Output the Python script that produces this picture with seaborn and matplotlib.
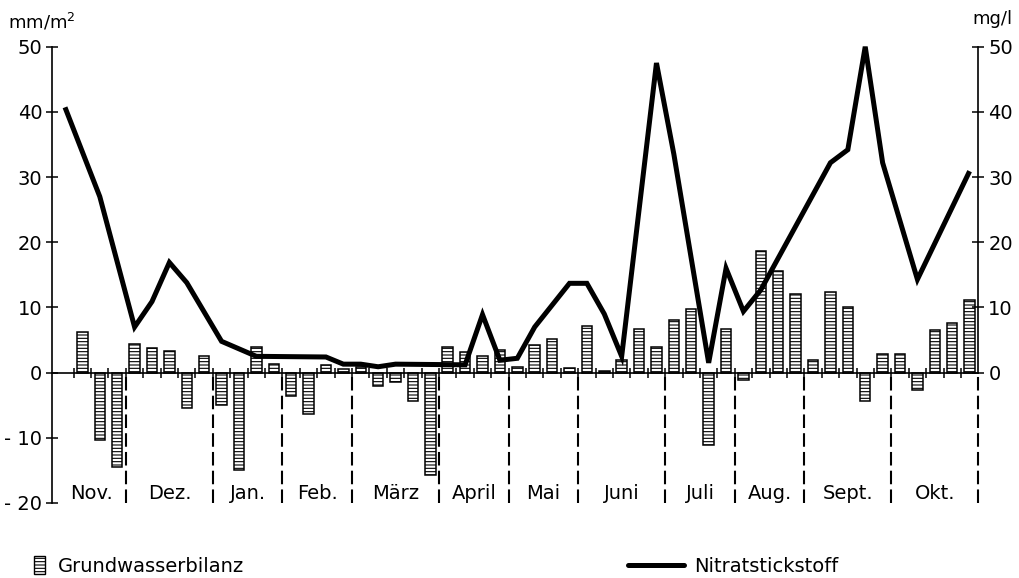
import numpy as np
import pandas as pd
import matplotlib
matplotlib.use("Agg")
import matplotlib.pyplot as plt
import seaborn as sns
from matplotlib.patches import Patch
from matplotlib.lines import Line2D

# Hydrological year, one bar per week
months = ["Nov.", "Dez.", "Jan.", "Feb.", "März", "April", "Mai", "Juni",
          "Juli", "Aug.", "Sept.", "Okt."]
weeks_per_month = [4, 5, 4, 4, 5, 4, 4, 5, 4, 4, 5, 5]

# Weekly groundwater balance in mm/m² (first week without value)
balance = [np.nan, 6.2, -10.4, -14.5,          # Nov
           4.4, 3.8, 3.3, -5.4, 2.5,           # Dez
           -5.0, -15.0, 3.9, 1.4,              # Jan
           -3.6, -6.4, 1.2, 0.6,               # Feb
           0.8, -2.0, -1.5, -4.4, -15.7,       # März
           4.0, 3.1, 2.6, 3.5,                 # April
           0.9, 4.3, 5.1, 0.7,                 # Mai
           7.2, 0.2, 2.0, 6.7, 3.9,            # Juni
           8.1, 9.7, -11.1, 6.7,               # Juli
           -1.1, 18.7, 15.6, 12.1,             # Aug
           2.0, 12.4, 10.0, -4.3, 2.9,         # Sept
           2.8, -2.7, 6.6, 7.6, 11.2]          # Okt

# Nitrate nitrogen in mg/l, sampled at these weeks
nitrate_week = [0, 2, 4, 5, 6, 7, 9, 11, 15, 16, 17, 18, 19, 23, 24, 25, 26,
                27, 29, 30, 31, 32, 34, 35, 37, 38, 39, 40, 44, 45, 46, 47,
                49, 52]
nitrate = [40.7, 27.0, 7.0, 10.9, 16.9, 13.8, 4.8, 2.5, 2.4, 1.3, 1.3, 0.9,
           1.3, 1.2, 8.9, 1.9, 2.2, 7.0, 13.7, 13.7, 9.0, 2.5, 47.5, 33.5,
           1.5, 16.0, 9.4, 12.7, 32.2, 34.2, 50.0, 32.2, 14.3, 30.9]

left_ticks = [50, 40, 30, 20, 10, 0, -10, -20]
left_labels = ["50", "40", "30", "20", "10", "0", "- 10", "- 20"]
right_ticks = [0, 10, 20, 30, 40, 50]

sns.set_theme(style="white")
plt.rcParams["font.family"] = ["DejaVu Sans"]
plt.rcParams["hatch.linewidth"] = 0.8
plt.rcParams["hatch.color"] = "black"
for key in ["text.color", "axes.labelcolor", "xtick.color", "ytick.color"]:
    plt.rcParams[key] = "black"

FS = 14
n_weeks = len(balance)
df = pd.DataFrame({"week": np.arange(n_weeks), "balance": balance})

fig = plt.figure(figsize=(10.19, 5.78), dpi=100)
ax = fig.add_axes([52.3 / 1019, 1 - 503 / 578, 926 / 1019, 456.3 / 578])

sns.barplot(data=df.dropna(), x="week", y="balance", native_scale=True,
            width=0.6, color="white", saturation=1, edgecolor="black",
            linewidth=1.1, errorbar=None, ax=ax, zorder=2)
for p in ax.patches:
    p.set_hatch("-----")

sns.lineplot(x=nitrate_week, y=nitrate, ax=ax, color="black", linewidth=3.6,
             zorder=4, clip_on=False, solid_joinstyle="miter",
             solid_capstyle="butt")

ax.set_xlim(-0.73, n_weeks - 0.5)
ax.set_ylim(-20, 50)
ax.set_xlabel("")
ax.set_ylabel("")

# zero line as x axis with week ticks
for s in ["top", "right"]:
    ax.spines[s].set_visible(False)
ax.spines["bottom"].set_position(("data", 0))
ax.spines["bottom"].set_linewidth(1.2)
ax.spines["bottom"].set_color("black")
ax.spines["left"].set_linewidth(1.2)
ax.spines["left"].set_color("black")
ax.set_xticks(np.arange(1, n_weeks) - 0.5)
ax.set_xticklabels([])
ax.tick_params(axis="x", direction="inout", length=7.5, width=1.1,
               color="black", bottom=True)

ax.set_yticks(left_ticks)
ax.set_yticklabels(left_labels, fontsize=FS)
ax.tick_params(axis="y", direction="inout", length=8.5, width=1.1,
               color="black", labelcolor="black", left=True, pad=3)

# month separators and names
bounds = np.concatenate([[0], np.cumsum(weeks_per_month)])
ax.vlines(bounds[1:] - 0.5, -20, 0, colors="black", linewidth=1.5,
          linestyles=(0, (6.5, 2.5)), zorder=1, clip_on=False)
for name, a, b in zip(months, bounds[:-1], bounds[1:]):
    ax.text((a + b) / 2 - 0.5, -18.6, name, ha="center", va="center",
            fontsize=FS, color="black")

# right axis for nitrate
ax2 = ax.twinx()
ax2.set_ylim(-20, 50)
for s in ["top", "left", "bottom"]:
    ax2.spines[s].set_visible(False)
ax2.spines["right"].set_bounds(0, 50)
ax2.spines["right"].set_linewidth(1.2)
ax2.spines["right"].set_color("black")
ax2.set_yticks(right_ticks)
ax2.set_yticklabels([str(t) for t in right_ticks], fontsize=FS)
ax2.tick_params(axis="y", direction="inout", length=8.5, width=1.1,
                color="black", labelcolor="black", right=True, pad=3)
ax2.grid(False)
ax.grid(False)

fig.text(8 / 1019, 1 - 28 / 578, "mm/m$^2$", fontsize=FS - 1, ha="left",
         va="baseline", color="black")
fig.text(1012 / 1019, 1 - 24 / 578, "mg/l", fontsize=FS - 1, ha="right",
         va="baseline", color="black")

leg1 = fig.legend(handles=[Patch(facecolor="white", edgecolor="black",
                                 hatch="-----", linewidth=1.0,
                                 label="Grundwasserbilanz")],
                  loc="center left", bbox_to_anchor=(34 / 1019, 1 - 566 / 578),
                  frameon=False, fontsize=FS, handlelength=0.55,
                  handleheight=1.0, handletextpad=0.7, borderpad=0,
                  borderaxespad=0, labelcolor="black")
fig.legend(handles=[Line2D([], [], color="black", linewidth=3.6,
                           label="Nitratstickstoff")],
           loc="center left", bbox_to_anchor=(628 / 1019, 1 - 566 / 578),
           frameon=False, fontsize=FS, handlelength=2.9, handletextpad=0.5,
           borderpad=0, borderaxespad=0, labelcolor="black")

fig.savefig("out.png", dpi=100, facecolor="white")
